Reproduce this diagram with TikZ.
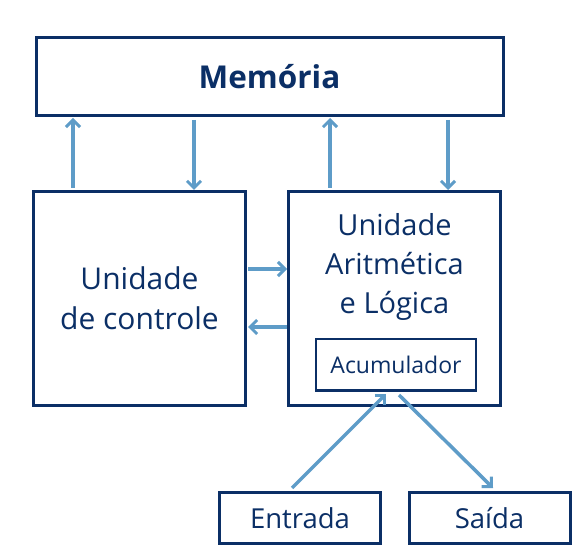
\documentclass[tikz,border=0pt]{standalone}
\usepackage{fontspec}
\setmainfont{Open Sans}
\usetikzlibrary{arrows.meta}
\definecolor{navy}{HTML}{0B2F66}
\definecolor{lblue}{HTML}{5E9CC8}
\begin{document}
\begin{tikzpicture}[x=1pt,y=-1pt,
  boxn/.style={draw=navy,line width=3pt,text=navy,inner sep=0pt,align=center},
  arr/.style={draw=lblue,line width=3.5pt,-{Straight Barb[length=7pt,width=14pt,line width=3pt]}}]
\useasboundingbox[fill=white] (0,0) rectangle (587,556);
\node[boxn,minimum width=467pt,minimum height=78pt,font=\fontsize{31.5}{36}\selectfont\bfseries] (mem) at (269.5,77) {Memória};
\node[boxn,minimum width=212pt,minimum height=213pt,font=\fontsize{30}{40}\selectfont] (uc) at (139.5,298.5) {Unidade\\de controle};
\node[boxn,minimum width=212pt,minimum height=213pt] (ula) at (394.5,298.5) {};
\node[text=navy,align=center,font=\fontsize{29}{39}\selectfont] (ulat) at (394.5,267) {Unidade\\Aritmética\\e Lógica};
\node[boxn,line width=2pt,minimum width=160pt,minimum height=51pt,font=\fontsize{23}{25}\selectfont] (acc) at (396,365) {Acumulador};
\node[boxn,minimum width=161pt,minimum height=51pt,font=\fontsize{27.5}{30}\selectfont] (ent) at (300,518) {Entrada};
\node[boxn,minimum width=161pt,minimum height=51pt,font=\fontsize{27.5}{30}\selectfont] (sai) at (489.5,518) {Saída};
\coordinate (a1s) at (73,188); \coordinate (a1e) at (73,118);
\coordinate (a2s) at (194,120); \coordinate (a2e) at (194,190);
\coordinate (a3s) at (330,188); \coordinate (a3e) at (330,118);
\coordinate (a4s) at (448,120); \coordinate (a4e) at (448,190);
\draw[arr] (a1s) -- (a1e);
\draw[arr] (a2s) -- (a2e);
\draw[arr] (a3s) -- (a3e);
\draw[arr] (a4s) -- (a4e);
\coordinate (h1s) at (248,269); \coordinate (h1e) at (287,269);
\coordinate (h2s) at (287,327); \coordinate (h2e) at (248,327);
\draw[arr] (h1s) -- (h1e);
\draw[arr] (h2s) -- (h2e);
\coordinate (e1) at (292,488); \coordinate (e2) at (386,394);
\coordinate (s1) at (399,395); \coordinate (s2) at (493,488);
\draw[arr] (e1) -- (e2);
\draw[arr] (s1) -- (s2);
\end{tikzpicture}
\end{document}
